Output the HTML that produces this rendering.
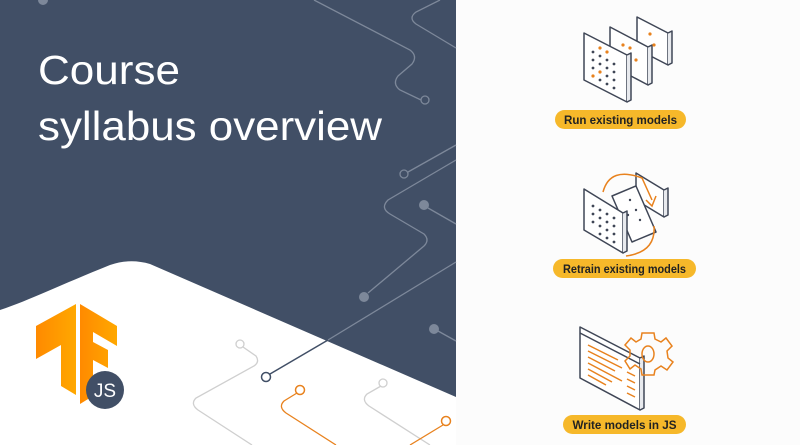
<!DOCTYPE html>
<html><head><meta charset="utf-8"><style>
html,body{margin:0;padding:0;background:#fafafa;}
svg{display:block;}
</style></head><body>
<svg width="800" height="445" viewBox="0 0 800 445" xmlns="http://www.w3.org/2000/svg">
<rect width="800" height="445" fill="#fcfcfc"/>
<rect width="456" height="445" fill="#414f66"/>
<path d="M0,310 C30,300 60,285 110,265 Q130,258 150,264 L456,397 L456,445 L0,445 Z" fill="#ffffff"/>
<g fill="none" stroke="#7d889a" stroke-width="1.3">
<path d="M314,0 L410,50 Q418,56 412,64 L398,76 Q392,84 400,90 L421,100"/>
<path d="M440,0 L416,12 Q408,18 416,24 L456,48"/>
<path d="M408,172 L456,145"/>
<path d="M456,160 L388,200 Q380,208 390,214 L424,234 Q430,240 424,246 L368,293"/>
<path d="M428,208 L456,224"/>
<path d="M438,331 L456,341"/>
<path d="M456,262 L328,340"/>
</g>
<circle cx="425" cy="100" r="4" fill="none" stroke="#7d889a" stroke-width="1.3"/>
<circle cx="404" cy="174" r="4" fill="none" stroke="#7d889a" stroke-width="1.3"/>
<circle cx="364" cy="297" r="5" fill="#7d889a"/>
<circle cx="424" cy="205" r="5" fill="#7d889a"/>
<circle cx="434" cy="329" r="5" fill="#7d889a"/>
<circle cx="43" cy="0" r="5" fill="#7d889a"/>
<path d="M328,340 L270,374" stroke="#414f66" stroke-width="1.5" fill="none"/>
<circle cx="266" cy="377" r="4.5" fill="#fff" stroke="#414f66" stroke-width="1.5"/>
<g fill="none" stroke-width="1.3">
<path d="M243,347 L256,356 Q260,362 254,366 L196,398 Q190,404 198,410 L252,445" stroke="#cfcfcf"/>
<path d="M297,393 L284,401 Q278,407 286,413 L336,445" stroke="#e8821e"/>
<path d="M381,386 L367,394 Q361,400 369,406 L430,445" stroke="#cfcfcf"/>
<path d="M443,425 L410,445" stroke="#e8821e"/>
</g>
<circle cx="240" cy="344" r="4" fill="#fff" stroke="#cfcfcf" stroke-width="1.3"/>
<circle cx="300" cy="390" r="4.5" fill="#fff" stroke="#e8821e" stroke-width="1.5"/>
<circle cx="383" cy="383" r="4" fill="#fff" stroke="#cfcfcf" stroke-width="1.3"/>
<circle cx="446" cy="421" r="4.5" fill="#fff" stroke="#e8821e" stroke-width="1.5"/>
<text x="38" y="84" font-family="Liberation Sans, sans-serif" font-size="41" fill="#fff" textLength="142" lengthAdjust="spacingAndGlyphs">Course</text>
<text x="38" y="140" font-family="Liberation Sans, sans-serif" font-size="41" fill="#fff" textLength="344" lengthAdjust="spacingAndGlyphs">syllabus overview</text>
<defs><linearGradient id="tf" x1="0" x2="1"><stop offset="0" stop-color="#ff8a00"/><stop offset="1" stop-color="#ffa800"/></linearGradient></defs>
<path d="M36,326 L76,304 L76,395 L61,386 L61,345 L36,359 Z" fill="url(#tf)"/>
<path d="M80,304 L117,326 L117,346 L93,332 L93,342 L108,350 L108,368 L93,360 L93,396 L80,404 Z" fill="url(#tf)"/>
<circle cx="105" cy="390" r="19" fill="#414f66"/>
<text x="105" y="397" text-anchor="middle" font-family="Liberation Sans, sans-serif" font-size="19" fill="#fff">JS</text>
<g fill="#fff" stroke="#3f4656" stroke-width="1.5" stroke-linejoin="round">
<path d="M637,17 L668,33 L668,65 L637,49 Z"/><path d="M668,33 L672,31 L672,63 L668,65" fill="#e8eaee"/>
<path d="M610,27 L648,47 L648,85 L610,65 Z"/><path d="M648,47 L652,45 L652,83 L648,85" fill="#e8eaee"/>
<path d="M584,33 L627,55 L627,102 L584,80 Z"/><path d="M627,55 L631,53 L631,100 L627,102" fill="#e8eaee"/>
<path d="M636,173 L664,190 L664,217 L636,200 Z"/><path d="M664,190 L668,188 L668,215 L664,217" fill="#e8eaee"/>
<path d="M612,196 L636,186 L656,232 L632,242 Z"/>
<path d="M584,189 L623,213 L623,253 L584,230 Z"/><path d="M623,213 L627,211 L627,251 L623,253" fill="#e8eaee"/>
<path d="M580,327 L640,358 L640,410 L580,378 Z"/><path d="M640,358 L644,356 L644,408 L640,410" fill="#e8eaee"/><path d="M580,333 L640,364" fill="none"/>
</g>
<g fill="#3f4656">
<circle cx="593" cy="52" r="1.4"/><circle cx="600" cy="56" r="1.4"/><circle cx="607" cy="60" r="1.4"/><circle cx="614" cy="64" r="1.4"/>
<circle cx="593" cy="60" r="1.4"/><circle cx="600" cy="64" r="1.4"/><circle cx="607" cy="68" r="1.4"/><circle cx="614" cy="72" r="1.4"/>
<circle cx="593" cy="68" r="1.4"/><circle cx="607" cy="76" r="1.4"/><circle cx="614" cy="80" r="1.4"/>
<circle cx="600" cy="80" r="1.4"/><circle cx="607" cy="84" r="1.4"/><circle cx="614" cy="88" r="1.4"/>
<circle cx="593" cy="206" r="1.4"/><circle cx="600" cy="210" r="1.4"/><circle cx="607" cy="214" r="1.4"/><circle cx="614" cy="218" r="1.4"/>
<circle cx="593" cy="214" r="1.4"/><circle cx="600" cy="218" r="1.4"/><circle cx="607" cy="222" r="1.4"/><circle cx="614" cy="226" r="1.4"/>
<circle cx="593" cy="222" r="1.4"/><circle cx="600" cy="226" r="1.4"/><circle cx="607" cy="230" r="1.4"/><circle cx="614" cy="234" r="1.4"/>
<circle cx="600" cy="234" r="1.4"/><circle cx="607" cy="238" r="1.4"/><circle cx="614" cy="242" r="1.4"/>
<circle cx="630" cy="200" r="1.2"/><circle cx="636" cy="210" r="1.2"/><circle cx="628" cy="215" r="1.2"/><circle cx="640" cy="220" r="1.2"/>
</g>
<g fill="#e8821e">
<circle cx="600" cy="48" r="1.6"/><circle cx="607" cy="52" r="1.6"/><circle cx="600" cy="72" r="1.6"/><circle cx="593" cy="76" r="1.6"/>
<circle cx="623" cy="45" r="1.6"/><circle cx="630" cy="48" r="1.6"/><circle cx="636" cy="60" r="1.6"/><circle cx="650" cy="34" r="1.6"/><circle cx="654" cy="45" r="1.6"/>
</g>
<g fill="none" stroke="#e8821e" stroke-width="1.5">
<path d="M603,192 Q610,166 642,178 L652,200"/>
<path d="M646,200 L652,206 L656,196"/>
<path d="M654,226 Q656,252 626,256"/>
<g transform="translate(648,353)"><path d="M-6,-20 L6,-20 L7,-14 L13,-11 L18,-15 L24,-7 L19,-2 L20,5 L25,9 L19,17 L13,13 L7,17 L6,22 L-6,22 L-7,16 L-13,12 L-18,16 L-23,8 L-18,3 L-18,-3 L-23,-8 L-17,-15 L-12,-11 L-7,-14 Z"/><ellipse cx="0" cy="1" rx="6" ry="8"/></g>
<path d="M588,345 L618,360 M588,351 L622,368 M588,357 L615,371 M588,363 L622,381 M588,369 L612,382 M588,375 L606,385 M627,372 L635,376 M627,379 L635,383 M627,386 L635,390 M627,393 L635,397"/>
</g>
<g fill="#f6b82a"><rect x="555" y="110" width="131" height="19" rx="9.5"/><rect x="553" y="259" width="143" height="19" rx="9.5"/><rect x="563" y="415" width="123" height="19" rx="9.5"/></g>
<g font-family="Liberation Sans, sans-serif" font-size="11.5" font-weight="bold" fill="#222" text-anchor="middle">
<text x="620.5" y="124" textLength="113" lengthAdjust="spacingAndGlyphs">Run existing models</text>
<text x="624.5" y="273" textLength="123" lengthAdjust="spacingAndGlyphs">Retrain existing models</text>
<text x="624.5" y="429" textLength="104" lengthAdjust="spacingAndGlyphs">Write models in JS</text>
</g>
</svg>
</body></html>
